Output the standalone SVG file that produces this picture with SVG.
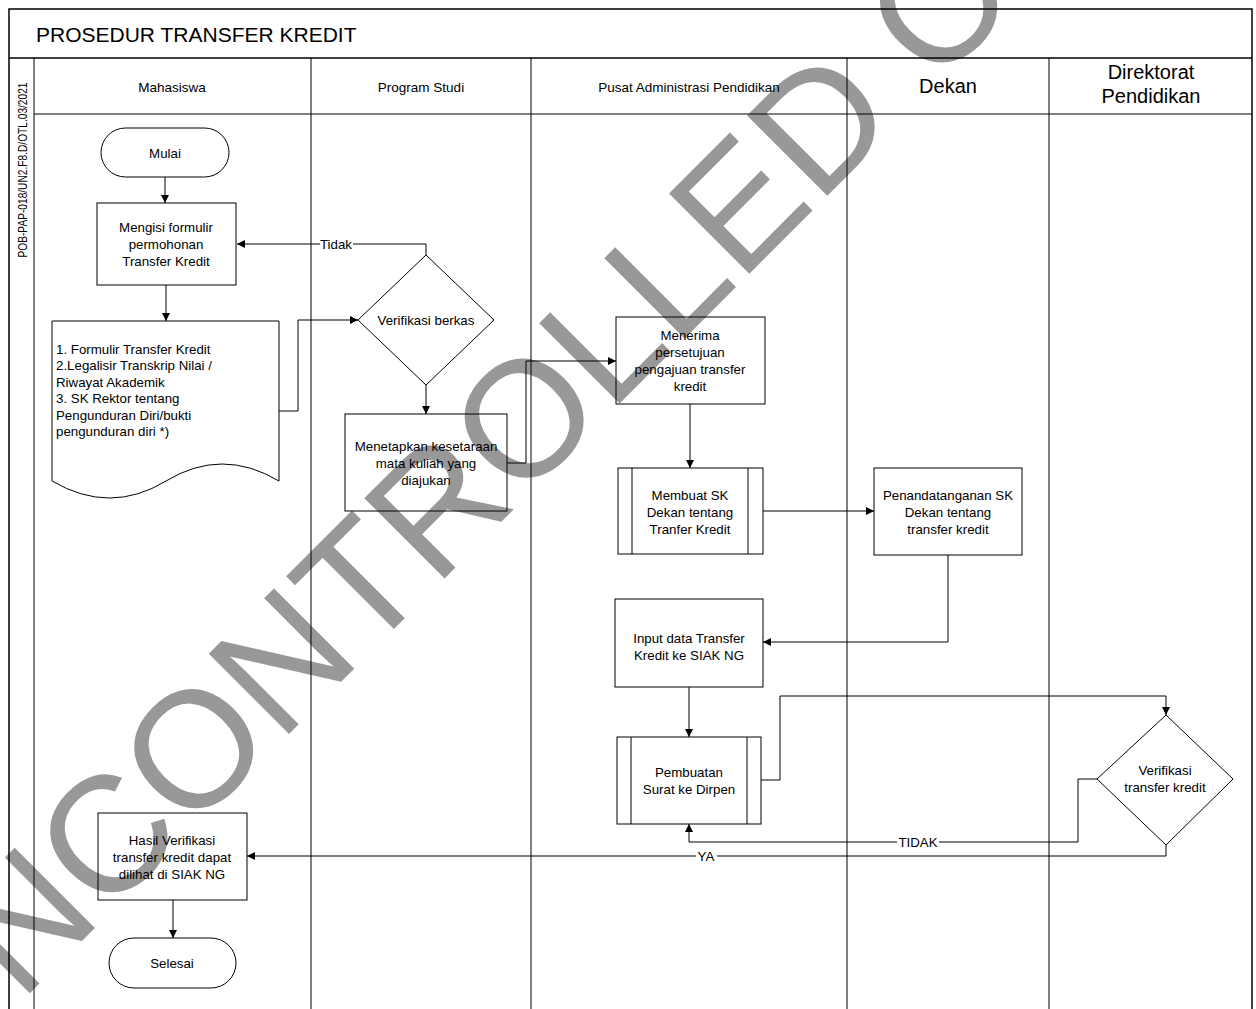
<svg xmlns="http://www.w3.org/2000/svg" width="1256" height="1009" viewBox="0 0 1256 1009">
<defs>
<style>
.frame{fill:none;stroke:#000;stroke-width:1.5}
.lane{fill:none;stroke:#000;stroke-width:1}
.node{fill:none;stroke:#000;stroke-width:1}
.t{font-family:"Liberation Sans",Arial,sans-serif;font-size:13.3px;fill:#000;text-anchor:middle}
.tl{font-family:"Liberation Sans",Arial,sans-serif;font-size:13.3px;fill:#000}
.h{font-family:"Liberation Sans",Arial,sans-serif;font-size:13.5px;fill:#000;text-anchor:middle}
.hb{font-family:"Liberation Sans",Arial,sans-serif;font-size:20px;fill:#000;text-anchor:middle}
.conn{fill:none;stroke:#000;stroke-width:1;marker-end:url(#arr)}
.line{fill:none;stroke:#000;stroke-width:1}
.lbl{fill:#fff;stroke:none}
.wm{font-family:"Liberation Sans",Arial,sans-serif;font-size:165px;fill:#333;stroke:none}
</style>
<marker id="arr" viewBox="0 0 10 10" refX="10" refY="5" markerWidth="9" markerHeight="8" markerUnits="userSpaceOnUse" orient="auto">
<path d="M0,0 L10,5 L0,10 z" fill="#000"/>
</marker>
</defs>
<rect width="1256" height="1009" fill="#fff"/>

<g id="watermark" opacity="0.5">
<text class="wm" transform="translate(-64,1087) rotate(-45)">UNCONTROLLED COPY</text>
</g>

<g id="frame">
<path class="frame" d="M9,1009 V9 H1252 V1009"/>
<line class="frame" x1="9" y1="58" x2="1252" y2="58"/>
<line class="lane" x1="34" y1="58" x2="34" y2="1009"/>
<line class="lane" x1="34" y1="114" x2="1252" y2="114"/>
<line class="lane" x1="311" y1="58" x2="311" y2="1009"/>
<line class="lane" x1="531" y1="58" x2="531" y2="1009"/>
<line class="lane" x1="847" y1="58" x2="847" y2="1009"/>
<line class="lane" x1="1049" y1="58" x2="1049" y2="1009"/>
<text x="36" y="42" style="font-family:'Liberation Sans',Arial,sans-serif;font-size:21px">PROSEDUR TRANSFER KREDIT</text>
<text transform="translate(27,170) rotate(-90)" text-anchor="middle" textLength="175" lengthAdjust="spacingAndGlyphs" style="font-family:'Liberation Sans',Arial,sans-serif;font-size:12.5px">POB-PAP-018/UN2.F8.D/OTL.03/2021</text>
<text class="h" x="172" y="92">Mahasiswa</text>
<text class="h" x="421" y="92">Program Studi</text>
<text class="h" x="689" y="92">Pusat Administrasi Pendidikan</text>
<text class="hb" x="948" y="93">Dekan</text>
<text class="hb" x="1151" y="79">Direktorat</text>
<text class="hb" x="1151" y="103">Pendidikan</text>
</g>

<g id="connectors">
<path class="conn" d="M165,177 V203"/>
<path class="conn" d="M166,285 V321"/>
<path class="conn" d="M279,411 H298 V320 H358"/>
<path class="conn" d="M426,255 V244 H237"/>
<path class="conn" d="M426,385 V414"/>
<path class="conn" d="M507,463 H526 V361 H616"/>
<path class="conn" d="M690,404 V468"/>
<path class="conn" d="M763,511 H874"/>
<path class="conn" d="M948,555 V642 H763"/>
<path class="conn" d="M689,687 V737"/>
<path class="conn" d="M761,780 H780 V696 H1166 V715"/>
<path class="conn" d="M1097,779 H1078 V842 H689 V824"/>
<path class="conn" d="M1166,845 V856 H247"/>
<path class="conn" d="M173,900 V938"/>
<rect class="lbl" x="320" y="237" width="33" height="14"/>
<text class="t" x="336" y="249">Tidak</text>
<rect class="lbl" x="897" y="835" width="42" height="14"/>
<text class="t" x="918" y="847">TIDAK</text>
<rect class="lbl" x="696" y="849" width="21" height="14"/>
<text class="t" x="706" y="861">YA</text>
</g>

<g id="n-mulai">
<rect class="node" x="101" y="128" width="128" height="49" rx="24.5"/>
<text class="t" x="165" y="158">Mulai</text>
</g>
<g id="n-mengisi">
<rect class="node" x="97" y="203" width="139" height="82"/>
<text class="t" x="166" y="232">Mengisi formulir</text>
<text class="t" x="166" y="249">permohonan</text>
<text class="t" x="166" y="266">Transfer Kredit</text>
</g>
<g id="n-dokumen">
<path class="node" d="M52,321 H279 V481 Q222,447 166,481 T52,481 Z"/>
<text class="tl" x="56" y="354">1. Formulir Transfer Kredit</text>
<text class="tl" x="56" y="370">2.Legalisir Transkrip Nilai /</text>
<text class="tl" x="56" y="387">Riwayat Akademik</text>
<text class="tl" x="56" y="403">3. SK Rektor tentang</text>
<text class="tl" x="56" y="420">Pengunduran Diri/bukti</text>
<text class="tl" x="56" y="436">pengunduran diri *)</text>
</g>
<g id="n-verifikasi-berkas">
<path class="node" d="M426,255 L494,320 L426,385 L358,320 Z"/>
<text class="t" x="426" y="325">Verifikasi berkas</text>
</g>
<g id="n-menetapkan">
<rect class="node" x="345" y="414" width="162" height="97"/>
<text class="t" x="426" y="451">Menetapkan kesetaraan</text>
<text class="t" x="426" y="468">mata kuliah yang</text>
<text class="t" x="426" y="485">diajukan</text>
</g>
<g id="n-menerima">
<rect class="node" x="616" y="317" width="149" height="87"/>
<text class="t" x="690" y="340">Menerima</text>
<text class="t" x="690" y="357">persetujuan</text>
<text class="t" x="690" y="374">pengajuan transfer</text>
<text class="t" x="690" y="391">kredit</text>
</g>
<g id="n-membuat-sk">
<rect class="node" x="618" y="468" width="145" height="86"/>
<line class="line" x1="632" y1="468" x2="632" y2="554"/>
<line class="line" x1="748" y1="468" x2="748" y2="554"/>
<text class="t" x="690" y="500">Membuat SK</text>
<text class="t" x="690" y="517">Dekan tentang</text>
<text class="t" x="690" y="534">Tranfer Kredit</text>
</g>
<g id="n-penandatanganan">
<rect class="node" x="874" y="468" width="148" height="87"/>
<text class="t" x="948" y="500">Penandatanganan SK</text>
<text class="t" x="948" y="517">Dekan tentang</text>
<text class="t" x="948" y="534">transfer kredit</text>
</g>
<g id="n-input">
<rect class="node" x="615" y="599" width="148" height="88"/>
<text class="t" x="689" y="643">Input data Transfer</text>
<text class="t" x="689" y="660">Kredit ke SIAK NG</text>
</g>
<g id="n-pembuatan">
<rect class="node" x="617" y="737" width="144" height="87"/>
<line class="line" x1="631" y1="737" x2="631" y2="824"/>
<line class="line" x1="747" y1="737" x2="747" y2="824"/>
<text class="t" x="689" y="777">Pembuatan</text>
<text class="t" x="689" y="794">Surat ke Dirpen</text>
</g>
<g id="n-verifikasi-transfer">
<path class="node" d="M1166,715 L1233,779 L1166,845 L1097,779 Z"/>
<text class="t" x="1165" y="775">Verifikasi</text>
<text class="t" x="1165" y="792">transfer kredit</text>
</g>
<g id="n-hasil">
<rect class="node" x="98" y="813" width="149" height="87"/>
<text class="t" x="172" y="845">Hasil Verifikasi</text>
<text class="t" x="172" y="862">transfer kredit dapat</text>
<text class="t" x="172" y="879">dilihat di SIAK NG</text>
</g>
<g id="n-selesai">
<rect class="node" x="109" y="938" width="127" height="50" rx="25"/>
<text class="t" x="172" y="968">Selesai</text>
</g>
</svg>
